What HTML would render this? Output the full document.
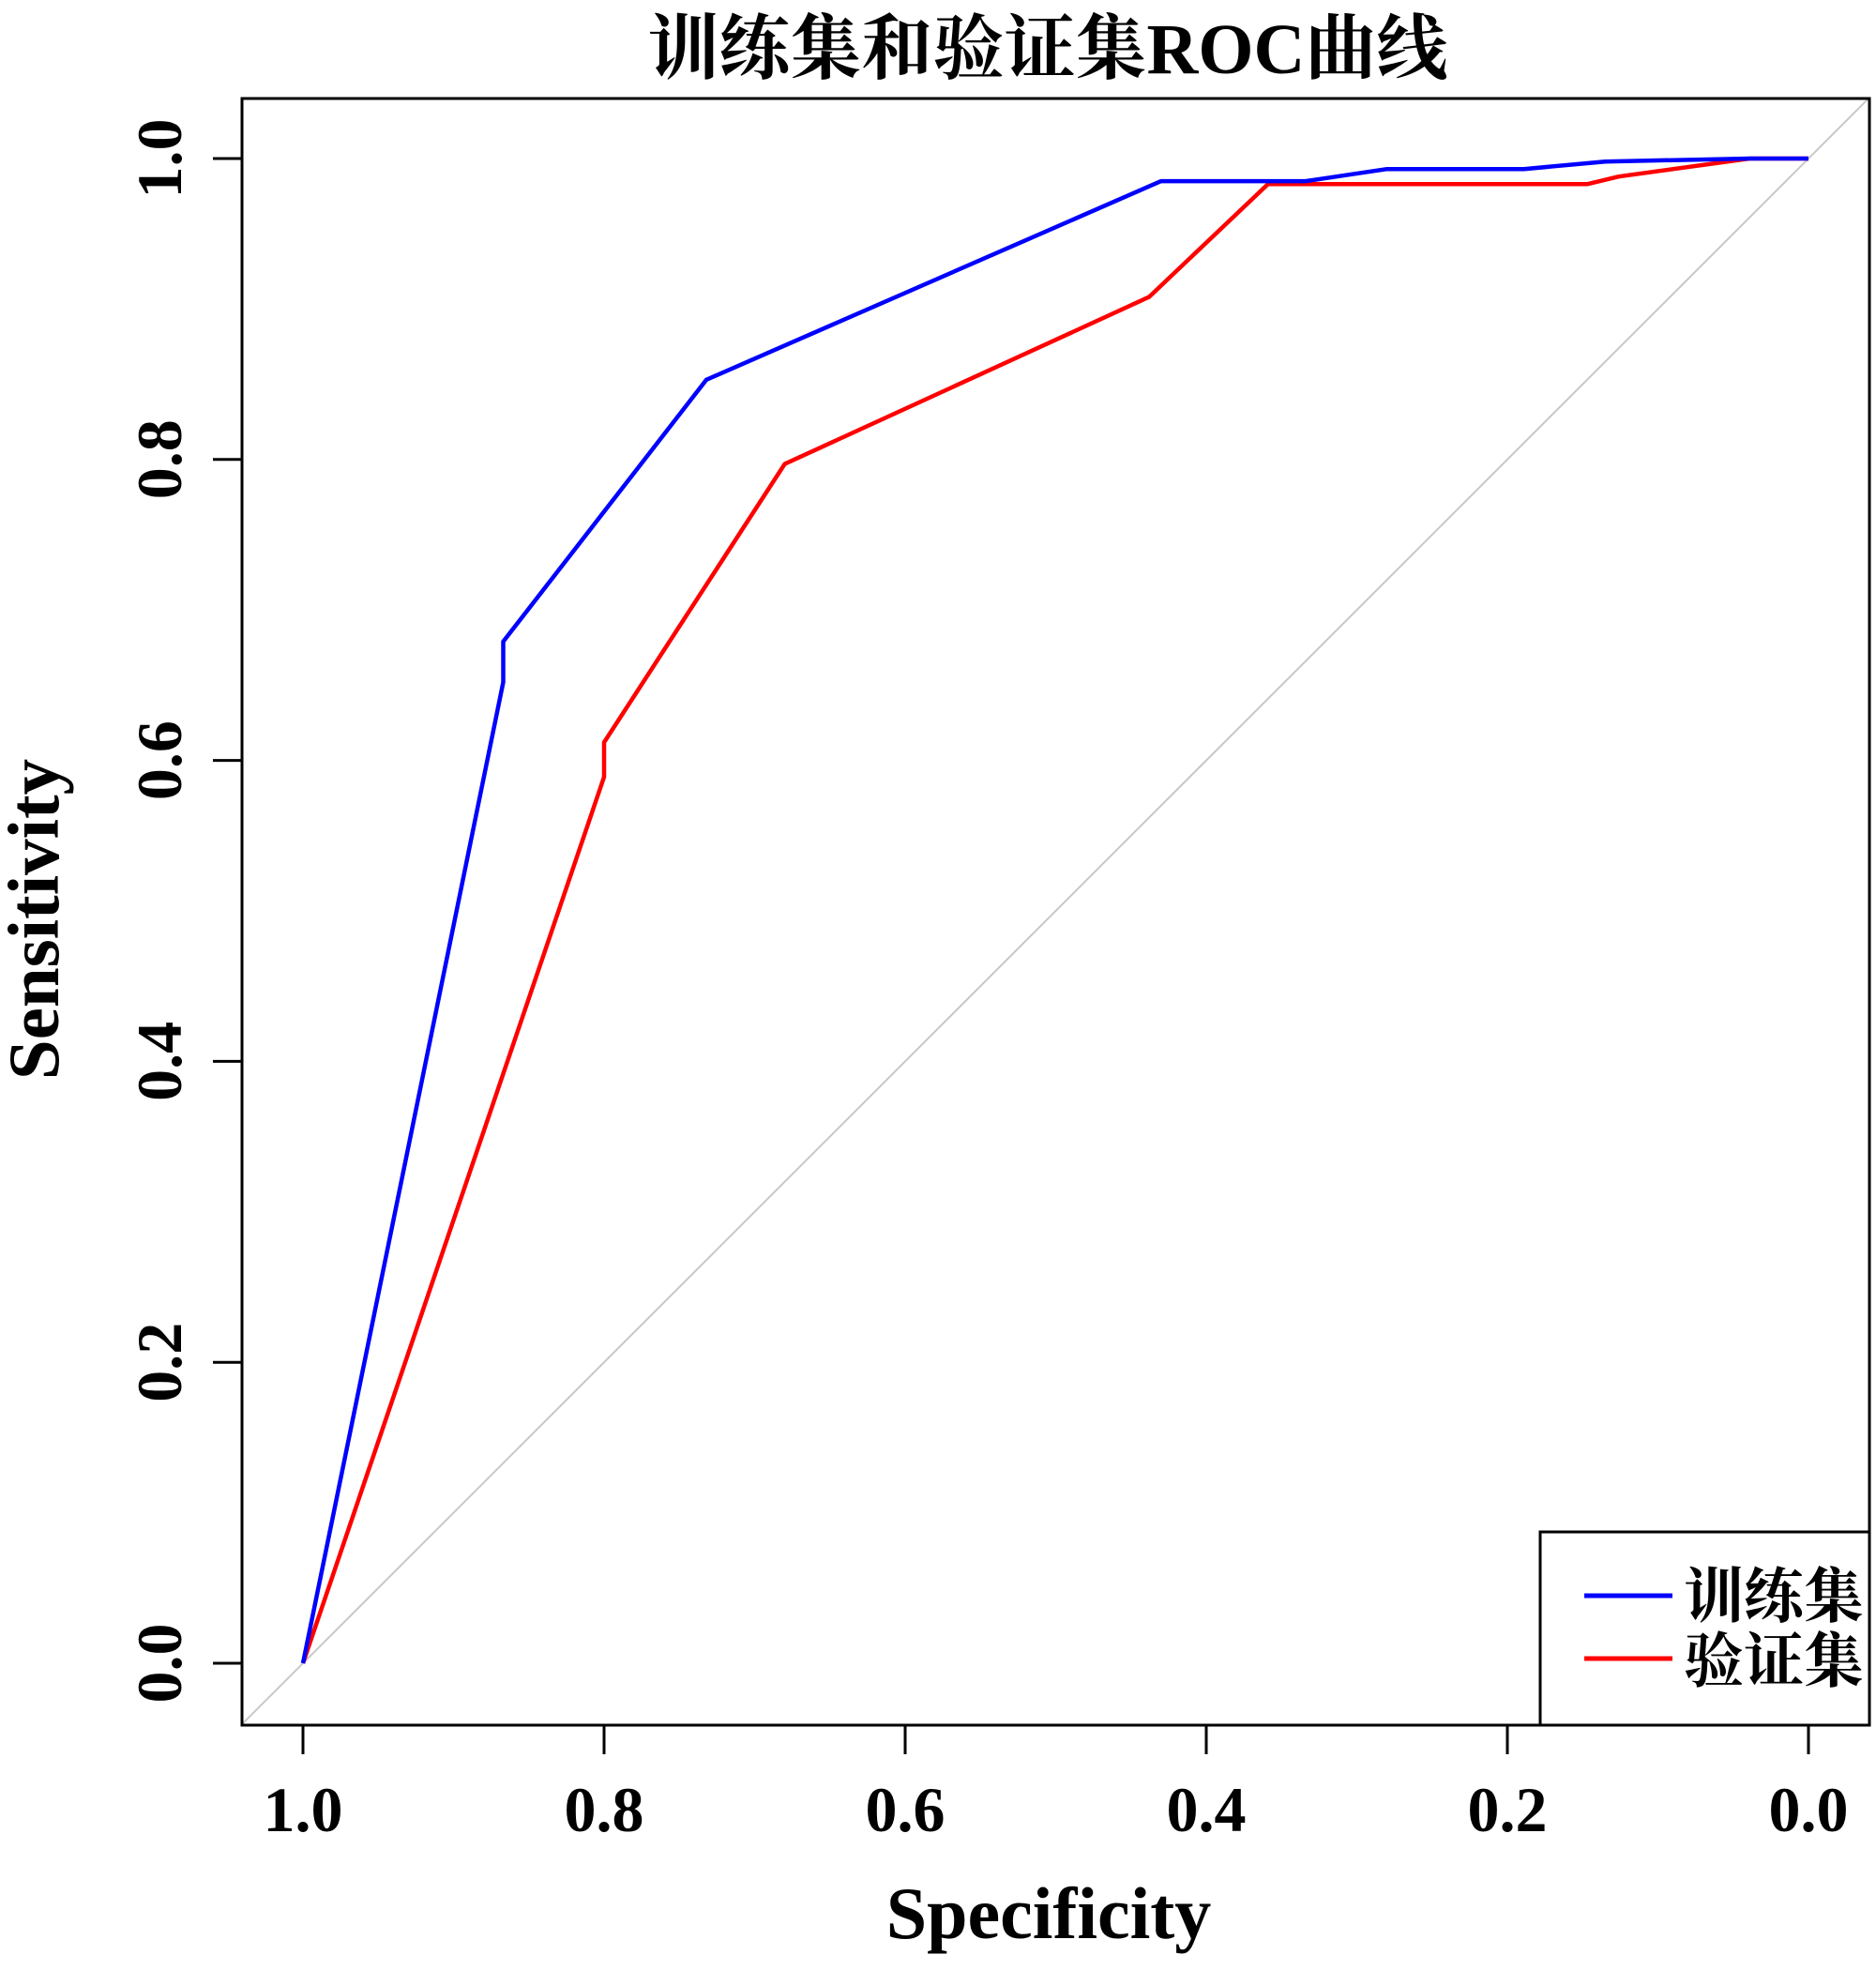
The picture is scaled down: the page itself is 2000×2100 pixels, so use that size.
<!DOCTYPE html>
<html><head><meta charset="utf-8"><style>
html,body{margin:0;padding:0;background:#fff;}
svg text{font-family:"Liberation Serif","Noto Serif CJK SC",serif;font-weight:bold;fill:#000;}
</style></head><body>
<svg id="chart" width="2000" height="2095" viewBox="0 0 2000 2095" xmlns="http://www.w3.org/2000/svg">
<text x="1117" y="78" font-size="76" text-anchor="middle">训练集和验证集ROC曲线</text>
<g id="plot"></g>
<rect x="258" y="105" width="1735" height="1734" fill="none" stroke="#000" stroke-width="3"/>
<g id="xaxis"></g>
<g id="yaxis"></g>
<text x="1118" y="2066" font-size="78" text-anchor="middle">Specificity</text>
<text transform="translate(62,980) rotate(-90)" font-size="77" text-anchor="middle">Sensitivity</text>
<g>
<rect x="1642" y="1633" width="351" height="206" fill="#fff" stroke="#000" stroke-width="3"/>
<line x1="1689" y1="1701" x2="1783" y2="1701" stroke="#0000ff" stroke-width="5"/>
<text x="1795" y="1724" font-size="64" font-weight="normal">训练集</text>
<line x1="1689" y1="1768" x2="1783" y2="1768" stroke="#ff0000" stroke-width="5"/>
<text x="1795" y="1793" font-size="64" font-weight="normal">验证集</text>
</g>
</svg>
<script>
const xTicks=[1.0,0.8,0.6,0.4,0.2,0.0];
const yTicks=[0.0,0.2,0.4,0.6,0.8,1.0];
const tickLabels=["1.0","0.8","0.6","0.4","0.2","0.0"];
const yTickLabels=["0.0","0.2","0.4","0.6","0.8","1.0"];
const trainSpec=[1,0.867,0.867,0.732,0.430,0.334,0.280,0.189,0.135,0.039,0];
const trainSens=[0,0.652,0.679,0.853,0.985,0.985,0.993,0.993,0.998,1,1];
const valSpec=[1,0.800,0.800,0.680,0.438,0.359,0.147,0.126,0.039,0];
const valSens=[0,0.589,0.612,0.797,0.908,0.983,0.983,0.988,1,1];
const NS="http://www.w3.org/2000/svg";
const X=s=>1928-s*1605;
const Y=v=>1773-v*1604;
function mk(tag,attrs,parent){const e=document.createElementNS(NS,tag);for(const k in attrs)e.setAttribute(k,attrs[k]);parent.appendChild(e);return e;}
const plot=document.getElementById('plot');
const dStart=(1928-258)/1605, dEnd=(1928-1993)/1605;
const diag=mk('line',{x1:X(dStart),y1:Y(1-dStart),x2:X(dEnd),y2:Y(1-dEnd),stroke:'#c8c8c8','stroke-width':2},plot);


function series(sp,se,color,name){
  const d=sp.map((s,i)=>(i?'L':'M')+X(s).toFixed(1)+' '+Y(se[i]).toFixed(1)).join(' ');
  const p=mk('path',{d:d,fill:'none',stroke:color,'stroke-width':4.5,'stroke-linejoin':'round'},plot);
  
  
}
series(valSpec,valSens,'#ff0000','validation-roc-curve');
series(trainSpec,trainSens,'#0000ff','training-roc-curve');
const xa=document.getElementById('xaxis');
xTicks.forEach((t,i)=>{
  const l=mk('line',{x1:X(t),y1:1839,x2:X(t),y2:1870,stroke:'#000','stroke-width':3},xa);
  
  
  const tx=mk('text',{x:X(t),y:1952,'font-size':68,'text-anchor':'middle'},xa);
  tx.textContent=tickLabels[i];
  
  
});
const ya=document.getElementById('yaxis');
yTicks.forEach((t,i)=>{
  const l=mk('line',{x1:227,y1:Y(t),x2:258,y2:Y(t),stroke:'#000','stroke-width':3},ya);
  
  
  const tx=mk('text',{transform:`translate(193,${Y(t)}) rotate(-90)`,'font-size':68,'text-anchor':'middle'},ya);
  tx.textContent=yTickLabels[i];
  
  
});
</script>
</body></html>
